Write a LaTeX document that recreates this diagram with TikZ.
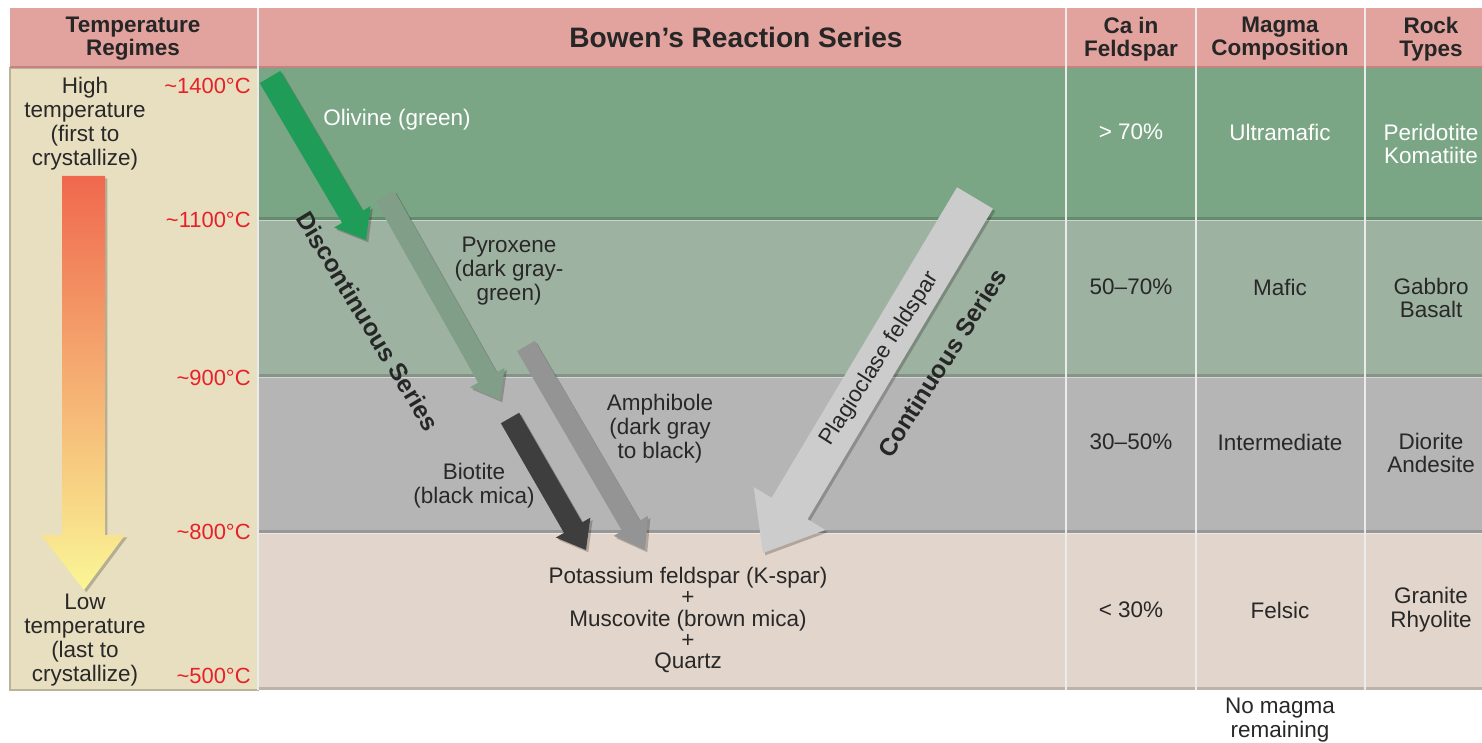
\documentclass[tikz,border=0pt]{standalone}
\usepackage{fontspec}
\setmainfont{Liberation Sans}
\usepackage{tikz}
\usetikzlibrary{positioning,arrows.meta,calc}
\definecolor{HeadRose}{RGB}{226,163,158}
\definecolor{HeadRoseDark}{RGB}{198,130,126}
\definecolor{RegimeSand}{RGB}{232,223,192}
\definecolor{RowOlivine}{RGB}{123,166,134}
\definecolor{RowPyroxene}{RGB}{158,178,161}
\definecolor{RowAmphibole}{RGB}{181,181,181}
\definecolor{RowFelsic}{RGB}{226,213,203}
\definecolor{TempRed}{RGB}{232,32,40}
\definecolor{ArrOlivine}{RGB}{30,156,88}
\definecolor{ArrPyroxene}{RGB}{128,158,136}
\definecolor{ArrAmphibole}{RGB}{148,148,148}
\definecolor{ArrBiotite}{RGB}{62,62,62}
\definecolor{ArrPlagio}{RGB}{204,204,204}
\definecolor{TextDark}{RGB}{40,40,40}
\definecolor{HotOrange}{RGB}{240,104,78}
\definecolor{WarmMid}{RGB}{246,182,110}
\definecolor{CoolYellow}{RGB}{250,246,150}
\newcommand\bowenarrow[6]{%
  \coordinate (#1base) at ($(#2)!#5!(#1)$);
  \fill[#6] ($(#1)!#3!90:(#2)$) -- ($(#1base)!#3!90:(#2)$) -- ($(#1base)!#4!90:(#2)$) -- (#2)
    -- ($(#1base)!#4!-90:(#2)$) -- ($(#1base)!#3!-90:(#2)$) -- ($(#1)!#3!-90:(#2)$) -- cycle;}

\begin{document}
\begin{tikzpicture}[x=0.02cm,y=-0.02cm,
    body/.style={font=\fontsize{12.8}{13.6}\selectfont,text=TextDark,align=center,inner sep=0pt},
    head/.style={font=\bfseries\fontsize{12.8}{13.2}\selectfont,text=black!85,align=center,inner sep=0pt},
    temp/.style={font=\fontsize{12.5}{13}\selectfont,text=TempRed,inner sep=0pt,anchor=east},
    series/.style={font=\bfseries\fontsize{14}{14}\selectfont,text=black!85,inner sep=0pt},
    sep/.style={white!92!black,line width=1.2pt},
    arrowshade/.style={black,opacity=0.22,transform canvas={xshift=1.3pt,yshift=-1.3pt}}]
  \useasboundingbox (0,0) rectangle (1482,743);
  \clip (0,0) rectangle (1482,743);

  \fill[HeadRose] (10,8) rectangle (1482,68);
  \fill[RegimeSand] (10,68) rectangle (258,690);
  \fill[RowOlivine] (258,68) rectangle (1482,220);
  \fill[RowPyroxene] (258,220) rectangle (1482,377);
  \fill[RowAmphibole] (258,377) rectangle (1482,533);
  \fill[RowFelsic] (258,533) rectangle (1482,690);
  \foreach \yb in {220,377,533,690}
    \draw[black,opacity=0.16,line width=1.6pt] (258,\yb-1.5) -- (1482,\yb-1.5);
  \foreach \yb in {220,377,533}
    \draw[white,opacity=0.45,line width=0.6pt] (258,\yb+0.5) -- (1482,\yb+0.5);
  \draw[RegimeSand!80!black,line width=0.8pt] (10,68) rectangle (258,690);
  \draw[HeadRoseDark,line width=1.2pt] (10,67) -- (1482,67);
  \foreach \xs in {258,1066,1196,1365}
    \draw[sep] (\xs,8) -- (\xs,690);

  \fill[arrowshade] (62,176) -- (105,176) -- (105,535) -- (125,535) -- (84,590) -- (41,535) -- (62,535) -- cycle;
  \shade[top color=HotOrange,middle color=WarmMid,bottom color=CoolYellow]
    (62,176) -- (105,176) -- (105,535) -- (125,535) -- (84,590) -- (41,535) -- (62,535) -- cycle;

  \coordinate (olA) at (270,77);
  \coordinate (olB) at (366,240);
  \coordinate (pyA) at (385,196);
  \coordinate (pyB) at (500,400);
  \coordinate (amA) at (526,346);
  \coordinate (amB) at (645,550);
  \coordinate (biA) at (510,418);
  \coordinate (biB) at (586,550);
  \coordinate (plA) at (975,198);
  \coordinate (plB) at (763,553);

  \bowenarrow{olA}{olB}{6.8pt}{12pt}{15.3pt}{arrowshade}
  \bowenarrow{olA}{olB}{6.8pt}{12pt}{15.3pt}{ArrOlivine}
  \bowenarrow{pyA}{pyB}{6pt}{11.3pt}{14.7pt}{arrowshade}
  \bowenarrow{pyA}{pyB}{6pt}{11.3pt}{14.7pt}{ArrPyroxene}
  \bowenarrow{amA}{amB}{5.8pt}{11.3pt}{15.9pt}{arrowshade}
  \bowenarrow{amA}{amB}{5.8pt}{11.3pt}{15.9pt}{ArrAmphibole}
  \bowenarrow{biA}{biB}{6pt}{11.3pt}{14.7pt}{arrowshade}
  \bowenarrow{biA}{biB}{6pt}{11.3pt}{14.7pt}{ArrBiotite}
  \bowenarrow{plA}{plB}{11.9pt}{23.8pt}{29.5pt}{arrowshade}
  \bowenarrow{plA}{plB}{11.9pt}{23.8pt}{29.5pt}{ArrPlagio}

  \node[head] (hdrTemp) at (133,39) {Temperature\\Regimes};
  \node[head,font=\bfseries\fontsize{16}{16}\selectfont] (hdrBowen) at (736,37) {Bowen’s Reaction Series};
  \node[head] (hdrCa) at (1131,39) {Ca in\\Feldspar};
  \node[head] (hdrMagma) at (1280,39) {Magma\\Composition};
  \node[head] (hdrRock) at (1431,39) {Rock\\Types};

  \node[body] (high) at (85,124) {High\\temperature\\(first to\\crystallize)};
  \node[body] (low) at (85,640) {Low\\temperature\\(last to\\crystallize)};
  \node[temp] (t1400) at (251,86) {\textasciitilde1400°C};
  \node[temp] (t1100) at (251,220) {\textasciitilde1100°C};
  \node[temp] (t900) at (251,378) {\textasciitilde900°C};
  \node[temp] (t800) at (251,532) {\textasciitilde800°C};
  \node[temp] (t500) at (251,676) {\textasciitilde500°C};

  \node[body,text=white] (olivine) at (397,120) {Olivine (green)};
  \node[body] (pyroxene) at (509,271) {Pyroxene\\(dark gray-\\green)};
  \node[body] (amphibole) at (660,429) {Amphibole\\(dark gray\\to black)};
  \node[body] (biotite) at (474,486) {Biotite\\(black mica)};
  \node[body,font=\fontsize{12.8}{12}\selectfont] (kspar) at (688,620)
    {Potassium feldspar (K-spar)\\+\\Muscovite (brown mica)\\+\\Quartz};
  \node[series,rotate=-58.7] (discont) at (368,321) {Discontinuous Series};
  \node[body,rotate=57.5] (plagio) at (880,359) {Plagioclase feldspar};
  \node[series,rotate=57.5] (cont) at (942,363) {Continuous Series};

  \node[body,text=white] (ca1) at (1131,132) {> 70\%};
  \node[body,text=white] (mg1) at (1280,132) {Ultramafic};
  \node[body,text=white] (rk1) at (1431,144) {Peridotite\\Komatiite};
  \node[body] (ca2) at (1131,287) {50–70\%};
  \node[body] (mg2) at (1280,287) {Mafic};
  \node[body] (rk2) at (1431,298) {Gabbro\\Basalt};
  \node[body] (ca3) at (1131,442) {30–50\%};
  \node[body] (mg3) at (1280,442) {Intermediate};
  \node[body] (rk3) at (1431,453) {Diorite\\Andesite};
  \node[body] (ca4) at (1131,610) {< 30\%};
  \node[body] (mg4) at (1280,610) {Felsic};
  \node[body] (rk4) at (1431,610) {Granite\\Rhyolite};
  \node[body] (nomagma) at (1280,720) {No magma\\remaining};
\end{tikzpicture}
\end{document}
